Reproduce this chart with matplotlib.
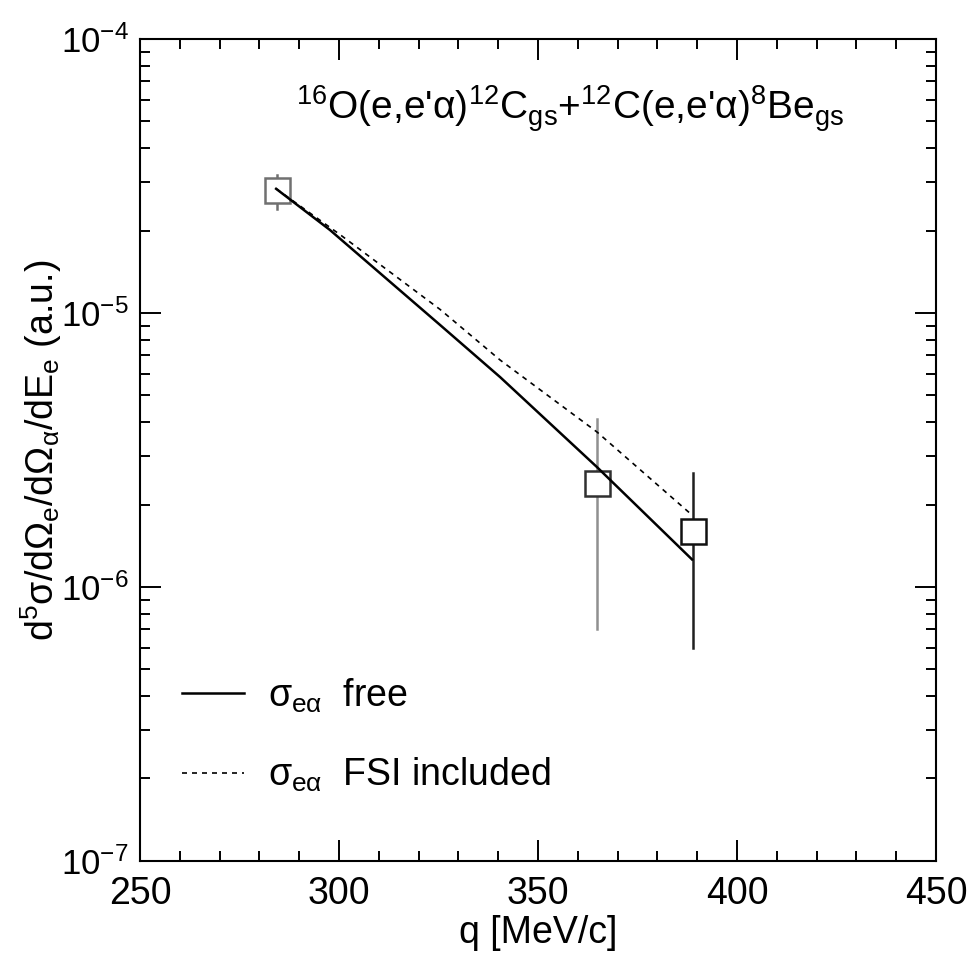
"""Cross section vs momentum transfer q, data and two model curves."""

import matplotlib
matplotlib.use("Agg")
import matplotlib.pyplot as plt
from matplotlib.ticker import LogLocator, MultipleLocator, LogFormatterMathtext, NullFormatter

plt.rcParams["font.family"] = ["Liberation Sans", "DejaVu Sans"]
plt.rcParams["mathtext.fontset"] = "custom"
plt.rcParams["mathtext.rm"] = "Liberation Sans"
plt.rcParams["mathtext.it"] = "Liberation Sans"
plt.rcParams["mathtext.bf"] = "Liberation Sans:bold"

# measured points
q_data = [284.5, 364.8, 388.9]
y_data = [2.8e-5, 2.4e-6, 1.6e-6]
y_lo = [2.4e-5, 7.0e-7, 6.0e-7]
y_hi = [3.2e-5, 4.1e-6, 2.6e-6]
marker_edge = ["#707070", "#303030", "#101010"]
bar_color = ["#707070", "#909090", "#202020"]

# sigma_e-alpha free
q_free = [284.2, 297.7, 325.4, 340.5, 364.8, 388.7]
y_free = [2.84e-5, 2.01e-5, 9.04e-6, 5.83e-6, 2.74e-6, 1.26e-6]

# sigma_e-alpha with FSI
q_fsi = [284.2, 300.3, 325.4, 340.5, 364.8, 388.7]
y_fsi = [2.84e-5, 1.93e-5, 1.03e-5, 6.73e-6, 3.68e-6, 1.83e-6]

fig = plt.figure(figsize=(9.71, 9.56), dpi=100)
ax = fig.add_axes([0.1442, 0.0994, 0.8198, 0.8598])

ax.plot(q_free, y_free, color="black", lw=1.8, label=r"$\sigma_{e\alpha}$  free", zorder=4)
ax.plot(q_fsi, y_fsi, color="black", lw=1.2, ls=(0, (3, 3)),
        label=r"$\sigma_{e\alpha}$  FSI included", zorder=4)

for q, y, lo, hi, ec, bc in zip(q_data, y_data, y_lo, y_hi, marker_edge, bar_color):
    ax.plot([q, q], [lo, hi], color=bc, lw=1.8, zorder=2)
    ax.plot(q, y, marker="s", ms=18, mfc="white", mec=ec, mew=1.8, ls="none", zorder=3)

ax.set_yscale("log")
ax.set_xlim(250, 450)
ax.set_ylim(1e-7, 1e-4)
ax.xaxis.set_major_locator(MultipleLocator(50))
ax.xaxis.set_minor_locator(MultipleLocator(10))
ax.yaxis.set_major_locator(LogLocator(base=10, numticks=10))
ax.yaxis.set_minor_locator(LogLocator(base=10, subs=range(2, 10), numticks=10))
ax.yaxis.set_major_formatter(LogFormatterMathtext())
ax.yaxis.set_minor_formatter(NullFormatter())

ax.tick_params(which="both", direction="in", top=True, right=True, width=1.4)
ax.tick_params(axis="x", which="major", length=15, pad=11, labelsize=27)
ax.tick_params(axis="y", which="major", length=15, pad=8, labelsize=25)
ax.tick_params(which="minor", length=7)
for sp in ax.spines.values():
    sp.set_linewidth(1.5)

ax.set_xlabel("q [MeV/c]", fontsize=27, labelpad=2)
ax.set_ylabel(r"d$^{5}$σ/dΩ$_{e}$/dΩ$_{α}$/dE$_{e}$ (a.u.)", fontsize=27, labelpad=-2)

ax.text(0.54, 0.915,
        r"$^{16}$O(e,e'α)$^{12}$C$_{gs}$+$^{12}$C(e,e'α)$^{8}$Be$_{gs}$",
        transform=ax.transAxes, ha="center", va="center", fontsize=28)

ax.legend(loc="lower left", bbox_to_anchor=(0.01, 0.04), frameon=False, fontsize=27,
          handlelength=1.65, handletextpad=0.65, labelspacing=1.1)

fig.savefig("out.png", dpi=100)
plt.close(fig)
